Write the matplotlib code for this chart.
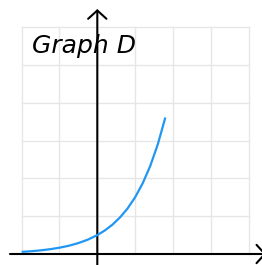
import matplotlib
matplotlib.use('Agg')
import matplotlib.pyplot as plt

# curve points
curve_x = [-2.0, -1.75, -1.5, -1.25, -1.0, -0.75, -0.5, -0.25, 0.0,
           0.2, 0.4, 0.6, 0.8, 1.0, 1.2, 1.4, 1.6, 1.8]
curve_y = [0.056, 0.073, 0.096, 0.127, 0.167, 0.219, 0.289, 0.380, 0.5,
           0.623, 0.776, 0.967, 1.204, 1.5, 1.869, 2.328, 2.900, 3.612]

grid_x = [-2, -1, 1, 2, 3, 4]
grid_y = [1, 2, 3, 4, 5, 6]

TITLE = 'Graph D'

fig = plt.figure(figsize=(2.62, 2.65), dpi=100)
ax = fig.add_axes([0, 0, 1, 1])
ax.set_xlim(-2.574, 4.357)
ax.set_ylim(-0.291, 6.72)
ax.axis('off')

# light grid, only over the plotted box
for gx in grid_x:
    ax.plot([gx, gx], [0, 6], color='#e6e6e6', lw=1.0, zorder=1)
for gy in grid_y:
    ax.plot([-2, 4], [gy, gy], color='#e6e6e6', lw=1.0, zorder=1)
ax.plot([0, 0], [0, 6], color='#e6e6e6', lw=1.0, zorder=1)

# axes with open arrow heads (x tip runs just past the right edge)
arrow = dict(arrowstyle='->,head_length=0.3,head_width=0.33',
             color='black', lw=1.5, mutation_scale=20,
             shrinkA=0, shrinkB=0)
ax.annotate('', xy=(4.47, 0), xytext=(-2.31, 0), arrowprops=arrow,
            annotation_clip=False, zorder=3)
ax.annotate('', xy=(0, 6.48), xytext=(0, -0.35), arrowprops=arrow,
            annotation_clip=False, zorder=3)

ax.plot(curve_x, curve_y, color='#2196F3', lw=1.6, zorder=4,
        solid_capstyle='butt')

ax.text(-1.73, 5.31, TITLE, fontsize=18, style='italic', color='black',
        ha='left', va='baseline', zorder=5)

plt.savefig('out.png', dpi=100)
plt.close()
